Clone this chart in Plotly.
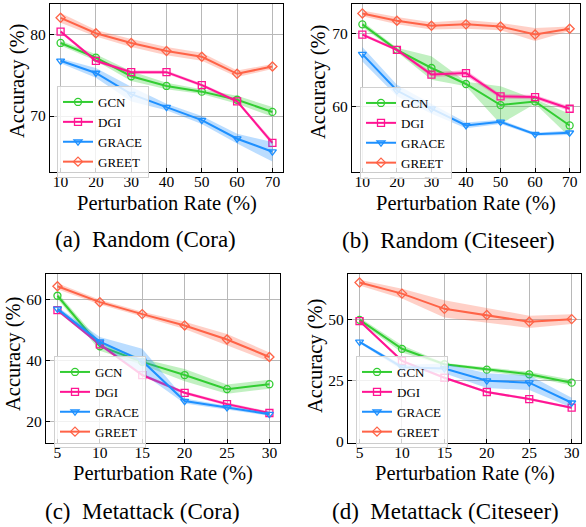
import plotly.graph_objects as go

W, H = 586, 527

models = ["GCN", "DGI", "GRACE", "GREET"]
colors = {"GCN": "#32CD32", "DGI": "#FF1493", "GRACE": "#1E90FF", "GREET": "#FF6347"}
fills = {"GCN": "rgba(50,205,50,0.3)", "DGI": "rgba(255,20,147,0.3)",
         "GRACE": "rgba(30,144,255,0.3)", "GREET": "rgba(255,99,71,0.3)"}
symbols = {"GCN": "circle-open", "DGI": "square-open",
           "GRACE": "triangle-down-open", "GREET": "diamond-open"}

rate_random = [10, 20, 30, 40, 50, 60, 70]
rate_meta = [5, 10, 15, 20, 25, 30]

# (a) Random (Cora)
a_gcn = [79.0, 77.2, 74.9, 73.7, 73.0, 72.0, 70.5]
a_gcn_std = [0.3, 0.4, 0.6, 0.4, 0.3, 0.5, 0.6]
a_dgi = [80.4, 76.8, 75.4, 75.4, 73.8, 71.8, 66.7]
a_dgi_std = [0.2, 0.2, 0.2, 0.2, 0.2, 0.2, 0.3]
a_grace = [76.8, 75.3, 72.7, 71.1, 69.5, 67.2, 65.6]
a_grace_std = [0.3, 0.6, 0.9, 0.4, 0.5, 0.6, 1.2]
a_greet = [82.1, 80.2, 79.0, 78.0, 77.3, 75.2, 76.1]
a_greet_std = [0.6, 0.4, 0.5, 0.5, 0.5, 0.4, 0.3]

# (b) Random (Citeseer)
b_gcn = [71.3, 67.8, 65.3, 63.1, 60.2, 60.7, 57.4]
b_gcn_std = [0.4, 0.3, 1.6, 0.3, 2.6, 0.3, 1.6]
b_dgi = [69.9, 67.8, 64.4, 64.6, 61.4, 61.3, 59.7]
b_dgi_std = [0.2, 0.2, 0.3, 0.4, 0.3, 0.3, 0.3]
b_grace = [67.2, 62.2, 59.7, 57.4, 57.9, 56.2, 56.4]
b_grace_std = [1.0, 0.8, 0.7, 0.4, 0.3, 0.2, 0.3]
b_greet = [72.8, 71.8, 71.1, 71.3, 71.0, 69.9, 70.7]
b_greet_std = [0.4, 0.5, 0.5, 0.6, 0.5, 0.9, 0.3]

# (c) Metattack (Cora)
c_gcn = [61.1, 44.6, 39.5, 35.2, 30.6, 32.2]
c_gcn_std = [1.0, 1.5, 1.0, 2.0, 1.5, 1.5]
c_dgi = [56.4, 45.2, 35.2, 29.4, 25.7, 22.8]
c_dgi_std = [0.5, 0.5, 0.5, 0.5, 0.5, 0.5]
c_grace = [56.8, 46.1, 39.8, 26.7, 24.6, 22.4]
c_grace_std = [0.7, 1.5, 4.0, 0.8, 0.6, 0.5]
c_greet = [64.2, 59.0, 55.1, 51.4, 46.8, 41.1]
c_greet_std = [1.0, 0.8, 0.8, 1.2, 1.8, 1.5]

# (d) Metattack (Citeseer)
d_gcn = [49.8, 38.0, 31.7, 29.5, 27.6, 24.2]
d_gcn_std = [1.0, 1.5, 0.5, 0.8, 1.0, 1.2]
d_dgi = [49.3, 33.1, 26.2, 20.4, 17.5, 14.0]
d_dgi_std = [0.5, 0.5, 0.5, 0.5, 0.5, 0.5]
d_grace = [40.8, 30.5, 30.0, 25.0, 24.2, 16.0]
d_grace_std = [0.5, 1.0, 2.0, 3.0, 3.0, 2.0]
d_greet = [65.0, 60.5, 54.3, 51.8, 49.0, 50.1]
d_greet_std = [1.2, 2.0, 3.5, 3.0, 2.5, 2.0]

captions = ["(a)\u00a0 Random (Cora)", "(b)\u00a0 Random (Citeseer)",
            "(c)\u00a0 Metattack (Cora)", "(d)\u00a0 Metattack (Citeseer)"]
x_title = "Perturbation Rate (%)"
y_title = "Accuracy (%)"

panels = [
    dict(x=rate_random, series={"GCN": (a_gcn, a_gcn_std), "DGI": (a_dgi, a_dgi_std),
                                "GRACE": (a_grace, a_grace_std), "GREET": (a_greet, a_greet_std)},
         xr=[7, 73], yr=[63.1, 83.8], xt=rate_random, yt=[70, 80],
         px=(50, 283), py=(4, 172), leg=(57, 86), cap=(145.5, 240), xtl=203, ytl=(17, 81)),
    dict(x=rate_random, series={"GCN": (b_gcn, b_gcn_std), "DGI": (b_dgi, b_dgi_std),
                                "GRACE": (b_grace, b_grace_std), "GREET": (b_greet, b_greet_std)},
         xr=[7, 73], yr=[51.0, 74.1], xt=rate_random, yt=[60, 70],
         px=(352, 580), py=(4, 172), leg=(360, 87), cap=(448, 240.5), xtl=203, ytl=(318, 82)),
    dict(x=rate_meta, series={"GCN": (c_gcn, c_gcn_std), "DGI": (c_dgi, c_dgi_std),
                              "GRACE": (c_grace, c_grace_std), "GREET": (c_greet, c_greet_std)},
         xr=[3.65, 31.25], yr=[13.0, 68.2], xt=rate_meta, yt=[20, 40, 60],
         px=(46, 280), py=(274, 443), leg=(54, 356), cap=(142.5, 511), xtl=473, ytl=(13, 354)),
    dict(x=rate_meta, series={"GCN": (d_gcn, d_gcn_std), "DGI": (d_dgi, d_dgi_std),
                              "GRACE": (d_grace, d_grace_std), "GREET": (d_greet, d_greet_std)},
         xr=[3.64, 31.1], yr=[-0.4, 68.5], xt=rate_meta, yt=[0, 25, 50],
         px=(348, 581), py=(274, 443), leg=(356, 356), cap=(445, 511), xtl=473, ytl=(315, 356)),
]

FONT = "Liberation Serif"
fig = go.Figure()
annotations = []

for i, p in enumerate(panels):
    n = "" if i == 0 else str(i + 1)
    xa, ya = "x" + n, "y" + n
    legname = "legend" + n
    xs = p["x"]
    for m in models:
        vals, std = p["series"][m]
        up = [v + s for v, s in zip(vals, std)]
        lo = [v - s for v, s in zip(vals, std)]
        fig.add_trace(go.Scatter(
            x=list(xs) + list(xs)[::-1], y=up + lo[::-1], fill="toself",
            fillcolor=fills[m], line=dict(width=0), mode="lines",
            hoverinfo="skip", showlegend=False, xaxis=xa, yaxis=ya))
        fig.add_trace(go.Scatter(
            x=xs, y=vals, mode="lines+markers", name=m,
            line=dict(color=colors[m], width=2),
            marker=dict(symbol=symbols[m], size=7, color=colors[m],
                        line=dict(width=1.3, color=colors[m])),
            xaxis=xa, yaxis=ya, legend=legname))

    x0, x1 = p["px"]
    y0, y1 = p["py"]
    axcommon = dict(showline=True, linecolor="black", linewidth=1.2, mirror=True,
                    ticks="inside", ticklen=4, tickcolor="black", tickwidth=1,
                    showgrid=True, gridcolor="#b8b8b8", gridwidth=1.2, zeroline=False,
                    tickfont=dict(family=FONT, size=15.5, color="black"),
                    automargin=False)
    fig.update_layout({
        "xaxis" + n: dict(domain=[x0 / W, x1 / W], range=p["xr"], tickvals=p["xt"],
                          anchor=ya, ticklabelstandoff=-5, **axcommon),
        "yaxis" + n: dict(domain=[1 - y1 / H, 1 - y0 / H], range=p["yr"], tickvals=p["yt"],
                          anchor=xa, **axcommon),
        legname: dict(x=p["leg"][0] / W, y=1 - p["leg"][1] / H, xanchor="left", yanchor="top",
                      xref="paper", yref="paper",
                      bgcolor="rgba(255,255,255,0.8)", bordercolor="#d0d0d0", borderwidth=1,
                      font=dict(family=FONT, size=13, color="black"),
                      tracegroupgap=0, itemwidth=30),
    })
    annotations.append(dict(x=(x0 + x1) / 2 / W, y=1 - p["xtl"] / H, xref="paper", yref="paper",
                            text=x_title, showarrow=False, xanchor="center", yanchor="middle",
                            font=dict(family=FONT, size=20.5, color="black")))
    annotations.append(dict(x=p["ytl"][0] / W, y=1 - p["ytl"][1] / H, xref="paper", yref="paper",
                            text=y_title, showarrow=False, textangle=-90,
                            xanchor="center", yanchor="middle",
                            font=dict(family=FONT, size=20.5, color="black")))
    annotations.append(dict(x=p["cap"][0] / W, y=1 - p["cap"][1] / H, xref="paper", yref="paper",
                            text=captions[i], showarrow=False, xanchor="center", yanchor="middle",
                            font=dict(family=FONT, size=23, color="black")))

fig.update_layout(width=W, height=H, autosize=False,
                  margin=dict(l=0, r=0, t=0, b=0, pad=0),
                  paper_bgcolor="white", plot_bgcolor="white",
                  font=dict(family=FONT, color="black"),
                  annotations=annotations, showlegend=True)

fig.write_html("out.html", config={"displayModeBar": False},
               post_script="document.body.style.margin='0px';document.body.style.overflow='hidden';")
